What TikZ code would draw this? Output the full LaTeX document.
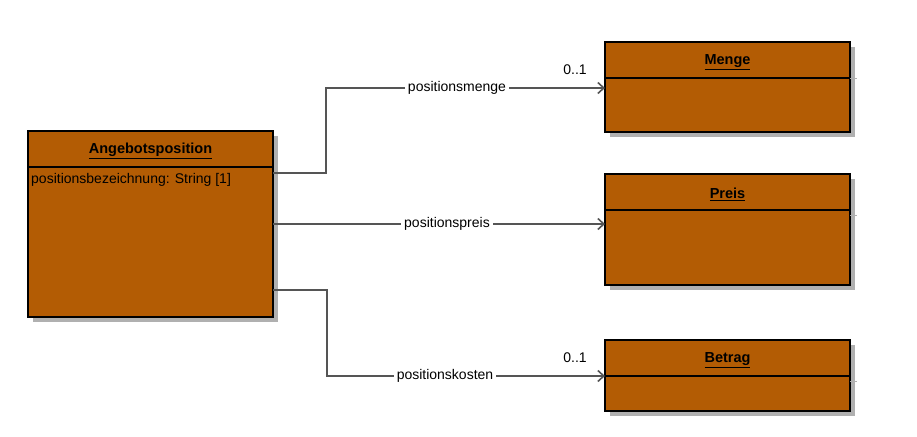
\documentclass[tikz,border=0pt]{standalone}
\usepackage{fontspec}
\setmainfont{Liberation Sans}
\usetikzlibrary{arrows.meta}
\definecolor{boxfill}{HTML}{B35C04}
\definecolor{conn}{HTML}{555555}
\definecolor{shad}{HTML}{B0B0B0}
\begin{document}
\begin{tikzpicture}[x=1pt,y=-1pt,
  cls/.style={draw=black, line width=1.6pt, fill=boxfill},
  shadowbox/.style={fill=shad},
  divider/.style={draw=black, line width=1.6pt},
  title/.style={font=\bfseries\fontsize{14.5}{16}\selectfont, inner sep=0pt},
  attr/.style={font=\fontsize{14}{16}\selectfont, inner sep=0pt, anchor=west},
  assoc/.style={draw=conn, line width=1.8pt, -{Straight Barb[length=6pt,width=11pt,line width=1.6pt]}},
  lbl/.style={fill=white, font=\fontsize{14}{16}\selectfont, inner sep=3pt},
  mult/.style={font=\fontsize{14}{16}\selectfont, inner sep=0pt}]
\useasboundingbox (0,0) rectangle (917,436);
% Angebotsposition
\fill[shadowbox] (33,136) rectangle (278,322);
\draw[cls] (28,131) rectangle (273,317);
\draw[divider] (28,167) -- (273,167);
\node[title] (t1) at (150.5,151) {\underline{Angebotsposition}};
\node[attr] (a1) at (31,180) {positionsbezeichnung: String [1]};
\coordinate (A1) at (273,173);
\coordinate (A2) at (273,224);
\coordinate (A3) at (273,290);
% Menge
\fill[shadowbox] (610,47) rectangle (855,137);
\draw[cls] (605,42) rectangle (850,132);
\draw[divider] (605,78) -- (850,78);
\draw[shad, line width=0.6pt] (850,78) -- (857,78);
\node[title] (t2) at (727.5,62) {\underline{Menge}};
\coordinate (M) at (605,88);
% Preis
\fill[shadowbox] (610,179) rectangle (855,290);
\draw[cls] (605,174) rectangle (850,285);
\draw[divider] (605,210) -- (850,210);
\draw[shad, line width=0.6pt] (850,215) -- (857,215);
\node[title] (t3) at (727.5,194) {\underline{Preis}};
\coordinate (P) at (605,224);
% Betrag
\fill[shadowbox] (610,345) rectangle (855,416);
\draw[cls] (605,340) rectangle (850,411);
\draw[divider] (605,376) -- (850,376);
\draw[shad, line width=0.6pt] (850,381) -- (857,381);
\node[title] (t4) at (727.5,360) {\underline{Betrag}};
\coordinate (B) at (605,376);
% connectors
\draw[assoc] (A1) -- (326,173) -- (326,88) -- (M);
\draw[assoc] (A2) -- (P);
\draw[assoc] (A3) -- (327,290) -- (327,376) -- (B);
\node[lbl] (l1) at (457,88) {positionsmenge};
\node[lbl] (l2) at (447,224) {positionspreis};
\node[lbl] (l3) at (445,376) {positionskosten};
\node[mult] (m1) at (575,70) {0..1};
\node[mult] (m3) at (575,358) {0..1};
\end{tikzpicture}
\end{document}
